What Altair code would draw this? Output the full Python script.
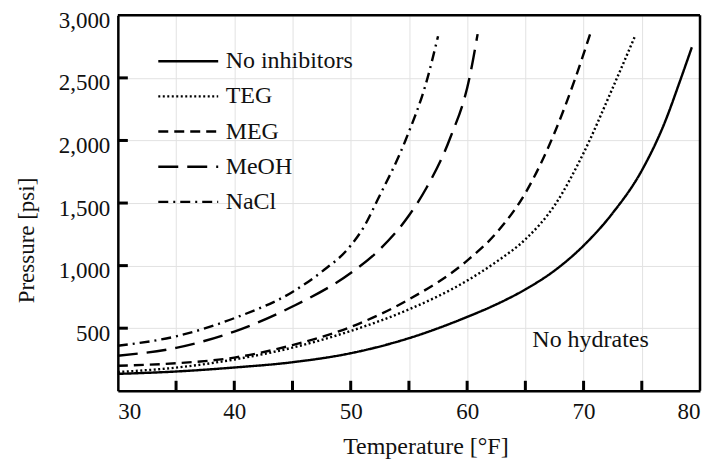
import altair as alt
import pandas as pd

series_names = ["No inhibitors", "TEG", "MEG", "MeOH", "NaCl"]
series_dashes = [[1, 0], [2, 2.5], [10, 6], [20, 9], [10, 5, 2, 5]]

t_none = [30, 35, 40, 45, 50, 55, 60, 62.5, 65, 67.5, 70, 72.5, 75, 77, 78.3, 79.3]
p_none = [135, 154, 186, 228, 300, 420, 590, 690, 810, 960, 1160, 1420, 1760, 2150, 2480, 2745]

t_teg = [30, 35, 40, 45, 50, 55, 60, 62.5, 65, 67.5, 70, 72.5, 74.4]
p_teg = [150, 185, 250, 345, 478, 650, 880, 1030, 1210, 1480, 1900, 2420, 2830]

t_meg = [30, 35, 40, 45, 50, 55, 60, 62.5, 65, 67.5, 69.3, 70.6]
p_meg = [200, 220, 265, 365, 510, 730, 1040, 1260, 1580, 2060, 2500, 2860]

t_meoh = [30, 35, 40, 45, 50, 52.5, 55, 56.5, 58.5, 60.2, 60.9]
p_meoh = [280, 343, 473, 673, 941, 1130, 1400, 1620, 2010, 2500, 2850]

t_nacl = [30, 35, 40, 45, 47.5, 50, 51.2, 52.3, 54.7, 56.6, 57.5]
p_nacl = [360, 435, 580, 790, 950, 1160, 1320, 1524, 2000, 2500, 2833]

x_tick_values = [30, 35, 40, 45, 50, 55, 60, 65, 70, 75, 80]
y_tick_values = [0, 500, 1000, 1500, 2000, 2500, 3000]
x_inner_ticks = [35, 40, 45, 50, 55, 60, 65, 70, 75]
y_inner_ticks = [500, 1000, 1500, 2000, 2500]

annotation_text = ["No hydrates"]
annotation_t = [65.6]
annotation_p = [350]

W, H = 583, 376
FONT = "Times New Roman, Liberation Serif, Tinos, Noto Serif, DejaVu Serif, serif"

rows = []
for name, ts, ps in [
    ("No inhibitors", t_none, p_none),
    ("TEG", t_teg, p_teg),
    ("MEG", t_meg, p_meg),
    ("MeOH", t_meoh, p_meoh),
    ("NaCl", t_nacl, p_nacl),
]:
    for t, p in zip(ts, ps):
        rows.append({"T": t, "P": p, "series": name})
df = pd.DataFrame(rows)

xscale = alt.Scale(domain=[30, 80], nice=False, zero=False)
yscale = alt.Scale(domain=[0, 3000], nice=False)

x_axis = alt.Axis(
    values=x_tick_values,
    labelExpr="datum.value % 10 == 0 ? format(datum.value, 'd') : ''",
    title="Temperature [°F]",
    titleX=308, titleY=63, titleAlign="center", titleBaseline="alphabetic",
    titleFontSize=24, labelPadding=10,
)
y_axis = alt.Axis(
    values=y_tick_values,
    labelExpr="datum.value == 0 ? '' : format(datum.value, ',')",
    title="Pressure [psi]",
    titleX=-91, titleY=225, titleAlign="center", titleBaseline="middle",
    titleAngle=-90, titleFontSize=23, labelPadding=8, labelOffset=5,
)

lines = alt.Chart(df).mark_line(color="black", strokeWidth=2.4, interpolate="monotone").encode(
    x=alt.X("T:Q", scale=xscale, axis=x_axis),
    y=alt.Y("P:Q", scale=yscale, axis=y_axis),
    strokeDash=alt.StrokeDash(
        "series:N",
        scale=alt.Scale(domain=series_names, range=series_dashes),
        sort=series_names,
        legend=alt.Legend(
            title=None, orient="none", legendX=39, legendY=34,
            symbolType="stroke", symbolSize=3600, symbolStrokeWidth=2.4,
            symbolStrokeColor="black", labelFont=FONT, labelFontSize=24,
            labelColor="#111", labelOffset=6, clipHeight=24, rowPadding=11.2,
            padding=0, labelLimit=300,
        ),
    ),
    order=alt.Order("T:Q"),
)

xt = alt.Chart(pd.DataFrame({"v": x_inner_ticks})).mark_rule(color="black", strokeWidth=3).encode(
    x=alt.X("v:Q", scale=xscale), y=alt.value(H), y2=alt.value(H - 10)
)
yt = alt.Chart(pd.DataFrame({"v": y_inner_ticks})).mark_rule(color="black", strokeWidth=3).encode(
    y=alt.Y("v:Q", scale=yscale), x=alt.value(0), x2=alt.value(10)
)
frame_top = alt.Chart(pd.DataFrame({"v": [0]})).mark_rule(color="black", strokeWidth=2.5).encode(
    x=alt.value(0), x2=alt.value(W), y=alt.value(0)
)
frame_right = alt.Chart(pd.DataFrame({"v": [0]})).mark_rule(color="black", strokeWidth=2.5).encode(
    x=alt.value(W), y=alt.value(0), y2=alt.value(H)
)

ann = alt.Chart(pd.DataFrame({"text": annotation_text, "T": annotation_t, "P": annotation_p})).mark_text(
    font=FONT, fontSize=24, align="left", baseline="alphabetic", color="#111"
).encode(x=alt.X("T:Q", scale=xscale), y=alt.Y("P:Q", scale=yscale), text="text:N")

chart = alt.layer(lines, xt, yt, frame_top, frame_right, ann).properties(
    width=W, height=H,
    autosize=alt.AutoSizeParams(type="none"),
    padding={"left": 110, "top": 7, "right": 8, "bottom": 68},
).configure_view(stroke=None).configure_axis(
    grid=True, gridColor="#e2e2e2", gridWidth=1,
    domainColor="black", domainWidth=2.5, tickSize=0,
    labelFont=FONT, labelFontSize=23, labelColor="#111",
    titleFont=FONT, titleFontWeight="normal", titleColor="#111",
)

chart.save("out.html", embed_options={"renderer": "svg", "actions": False})
